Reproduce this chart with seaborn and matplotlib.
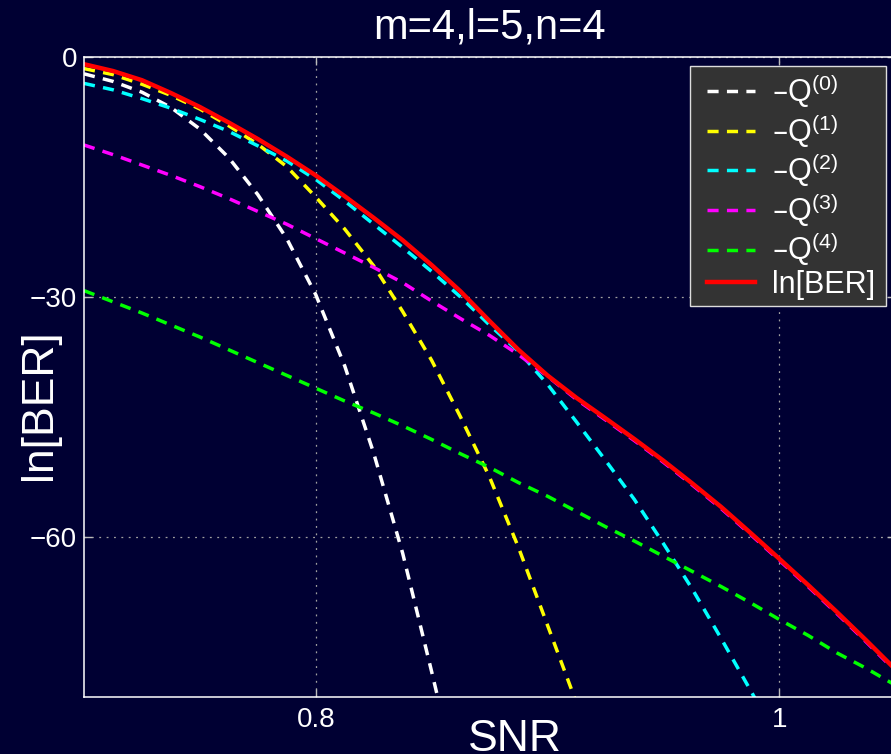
import numpy as np
import pandas as pd
import matplotlib
matplotlib.use('Agg')
import matplotlib.pyplot as plt
from matplotlib.patches import Rectangle
import seaborn as sns

nan = np.nan

snr = [0.7, 0.7125, 0.725, 0.7375, 0.75, 0.7625, 0.775, 0.7875, 0.8, 0.8125,
       0.825, 0.8375, 0.85, 0.8625, 0.875, 0.8875, 0.9, 0.9125, 0.925, 0.9375,
       0.95, 0.9625, 0.975, 0.9875, 1.0, 1.0125, 1.025, 1.0375, 1.05]

q0 = [-2.1, -3.05, -4.4, -6.3, -9.0, -12.6, -17.2, -22.7, -29.7, -38.6,
      -49.5, -62.0, -76.8, -92.0, nan, nan, nan, nan, nan, nan,
      nan, nan, nan, nan, nan, nan, nan, nan, nan]
q1 = [-1.45, -2.2, -3.4, -4.8, -6.5, -8.6, -10.9, -13.7, -17.5, -21.5,
      -26.1, -31.8, -37.9, -45.0, -52.5, -61.3, -71.0, -80.7, -91.0, nan,
      nan, nan, nan, nan, nan, nan, nan, nan, nan]
q2 = [-3.3, -4.1, -5.2, -6.4, -7.8, -9.3, -11.1, -13.0, -15.3, -18.0,
      -20.9, -23.8, -26.8, -30.0, -33.5, -36.8, -40.9, -45.6, -50.4, -55.3,
      -60.8, -66.5, -72.7, -79.1, -85.5, nan, nan, nan, nan]
q3 = [-11.0, -12.2, -13.5, -14.8, -16.2, -17.7, -19.3, -20.9, -22.7, -24.5,
      -26.3, -28.2, -30.5, -32.7, -34.8, -37.2, -39.9, -42.8, -45.35, -47.95,
      -50.65, -53.5, -56.45, -59.65, -62.9, -66.2, -69.6, -73.1, -76.7]
q4 = [-29.2, -30.6, -32.0, -33.5, -35.0, -36.6, -38.2, -39.8, -41.4, -43.0,
      -44.5, -46.1, -47.8, -49.6, -51.3, -53.2, -54.9, -56.8, -58.7, -60.5,
      -62.4, -64.3, -66.2, -68.2, -70.3, -72.3, -74.5, -76.4, -78.5]
ber = [-0.9, -1.75, -2.9, -4.5, -6.25, -8.2, -10.25, -12.45, -14.8, -17.4,
       -20.1, -22.9, -26.0, -29.3, -33.0, -36.6, -39.8, -42.6, -45.15, -47.75,
       -50.45, -53.3, -56.25, -59.45, -62.7, -66.0, -69.4, -72.9, -76.5]

keys = ['Q0', 'Q1', 'Q2', 'Q3', 'Q4', 'BER']
legend_labels = ['–Q$^{(0)}$', '–Q$^{(1)}$', '–Q$^{(2)}$', '–Q$^{(3)}$',
                 '–Q$^{(4)}$', 'ln[BER]']
colors = ['#ffffff', '#ffff00', '#00ffff', '#ff00ff', '#00ff00', '#ff0000']
xticks = [0.8, 1.0]
xticklabels = ['0.8', '1']
yticks = [-60, -30, 0]
yticklabels = ['\u221260', '\u221230', '0']

plt.rcParams['font.family'] = ['Liberation Sans', 'DejaVu Sans']
plt.rcParams['mathtext.default'] = 'regular'

series = [q0, q1, q2, q3, q4, ber]
df = pd.concat([pd.DataFrame({'SNR': snr, 'val': v, 'series': k})
                for k, v in zip(keys, series)]).dropna()

bg = '#000033'
fig = plt.figure(figsize=(8.91, 7.54), dpi=100, facecolor=bg)
ax = fig.add_axes([84 / 891, 1 - 697 / 754, 811 / 891, 640 / 754])
ax.set_facecolor(bg)

dash = (3.2, 2.4)
sns.lineplot(data=df, x='SNR', y='val', hue='series', style='series',
             hue_order=keys, style_order=keys,
             palette=dict(zip(keys, colors)),
             dashes={k: (dash if k != 'BER' else '') for k in keys},
             estimator=None, sort=False, linewidth=2.5, legend=False, ax=ax)
ax.lines[5].set_linewidth(3.2)

ax.set_xlim(0.7, 1.05)
ax.set_ylim(-80, 0)
ax.set_xticks(xticks)
ax.set_xticklabels(xticklabels)
ax.set_yticks(yticks)
ax.set_yticklabels(yticklabels)
ax.tick_params(direction='in', length=6, width=1, colors='#bbbbbb',
               labelcolor='white', labelsize=20, top=True, right=True)
ax.tick_params(axis='x', pad=7)
ax.tick_params(axis='y', pad=5)
for s in ax.spines.values():
    s.set_color('white')
    s.set_linewidth(1.1)
ax.grid(True, color='#a0a0a0', linestyle=(0, (1.5, 4.4)), linewidth=0.9)

ax.set_title('m=4,l=5,n=4', color='white', fontsize=30, pad=13)
ax.set_xlabel('SNR', fontsize=32, color='white')
ax.xaxis.set_label_coords(0.531, -0.0844)
ax.xaxis.label.set_va('baseline')
ax.set_ylabel('ln[BER]', fontsize=32, color='white')
ax.yaxis.set_label_coords(-0.0543, 0.456)
ax.yaxis.label.set_va('center')

# legend box (MATLAB-style: wider horizontal padding than vertical)
box = Rectangle((0.7472, 0.6109), 0.2417, 0.375, transform=ax.transAxes,
                facecolor='#333333', edgecolor='#dddddd', linewidth=1,
                zorder=4.5, clip_on=False)
ax.add_patch(box)
leg = ax.legend(handles=ax.lines[:6], labels=legend_labels, loc='upper left',
                bbox_to_anchor=(0.7608, 0.9859), borderaxespad=0, fontsize=22,
                frameon=False, labelcolor='white', handlelength=1.57,
                handletextpad=0.55, labelspacing=0.05, borderpad=0.2)
leg.set_zorder(5)

fig.savefig('out.png', dpi=100, facecolor=bg)
